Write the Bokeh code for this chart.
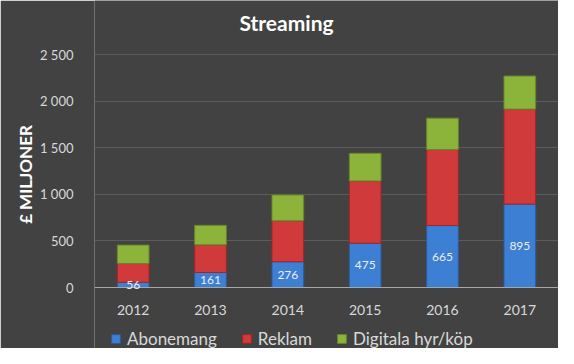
from bokeh.plotting import figure
from bokeh.models import (ColumnDataSource, FixedTicker, LabelSet, Label, Legend, LegendItem,
                          Range1d, FactorRange)
from bokeh.core.properties import value
from bokeh.embed import file_html
from bokeh.resources import INLINE

years = ["2012", "2013", "2014", "2015", "2016", "2017"]
abonemang = [56, 161, 276, 475, 665, 895]
reklam = [202, 297, 440, 668, 815, 1019]
digitala = [197, 209, 276, 297, 337, 355]
series = ["Abonemang", "Reklam", "Digitala hyr/köp"]
y_ticks = [0, 500, 1000, 1500, 2000, 2500]
y_tick_labels = ["0", "500", "1 000", "1 500", "2 000", "2 500"]

colors = ["#3d7fd3", "#d13a3a", "#8db43a"]
edges = ["#2a5c9c", "#9c2727", "#67862a"]
FONT = "Lato"
TXT = "#d9d9d9"
BG = "#424242"

W, H = 558, 348
LEFT = 94
TOP_PX, ZERO_PX = 54, 287          # pixel rows of the 2500 and 0 gridlines
upp = 2500 / (ZERO_PX - TOP_PX)    # value units per pixel
y_lo = -(H - ZERO_PX) * upp
y_hi = 2500 + TOP_PX * upp

src = ColumnDataSource(dict(
    years=years, Abonemang=abonemang, Reklam=reklam,
    **{"Digitala hyr/köp": digitala},
    mid=[v / 2 for v in abonemang], lab=[str(v) for v in abonemang],
))

p = figure(width=W, height=H, x_range=FactorRange(*years, range_padding=0),
           y_range=Range1d(y_lo, y_hi),
           output_backend="svg", toolbar_location=None,
           min_border_left=LEFT, min_border_right=0, min_border_top=0, min_border_bottom=0)
p.background_fill_color = BG
p.border_fill_color = BG
p.outline_line_color = None

rs = p.vbar_stack(series, x="years", width=0.41, source=src, color=colors,
                  line_color=edges, line_width=1)

labels = LabelSet(x="years", y="mid", text="lab", source=src, text_color="#eeeeee",
                  text_font=value(FONT), text_font_size=value("12px"), text_align="center",
                  text_baseline="middle")
p.add_layout(labels)

title = Label(x=286 - LEFT, y=H - 22, x_units="screen", y_units="screen", text="Streaming",
              text_color="white", text_font=FONT, text_font_size="21px",
              text_font_style="bold", text_align="center", text_baseline="middle")
p.add_layout(title)

p.yaxis.ticker = FixedTicker(ticks=y_ticks)
p.yaxis.major_label_overrides = {t: l for t, l in zip(y_ticks, y_tick_labels)}
p.yaxis.axis_label = "£ MILJONER"
p.yaxis.axis_label_text_font = FONT
p.yaxis.axis_label_text_font_style = "bold"
p.yaxis.axis_label_text_font_size = "17px"
p.yaxis.axis_label_text_color = "white"
p.yaxis.axis_label_standoff = 1
p.yaxis.axis_line_color = None
p.yaxis.major_tick_line_color = None
p.yaxis.minor_tick_line_color = None
p.yaxis.major_label_text_color = TXT
p.yaxis.major_label_text_font = FONT
p.yaxis.major_label_text_font_size = "13px"
p.yaxis.major_label_standoff = 15

p.xaxis.fixed_location = 0
p.xaxis.axis_line_color = "#a6a6a6"
p.xaxis.major_tick_line_color = None
p.xaxis.minor_tick_line_color = None
p.xaxis.major_label_text_color = TXT
p.xaxis.major_label_text_font = FONT
p.xaxis.major_label_text_font_size = "14px"
p.xaxis.major_label_standoff = 11

p.xgrid.grid_line_color = None
p.ygrid.grid_line_color = "#5c5c5c"

legend = Legend(items=[LegendItem(label=s, renderers=[r]) for s, r in zip(series, rs)],
                orientation="horizontal", location=(16, -1),
                background_fill_alpha=0, border_line_color=None,
                label_text_color=TXT, label_text_font=FONT, label_text_font_size="17px",
                glyph_width=11, glyph_height=11, spacing=24, label_standoff=6,
                margin=0, padding=0)
p.add_layout(legend, "center")

open("out.html", "w").write(file_html(p, INLINE))
